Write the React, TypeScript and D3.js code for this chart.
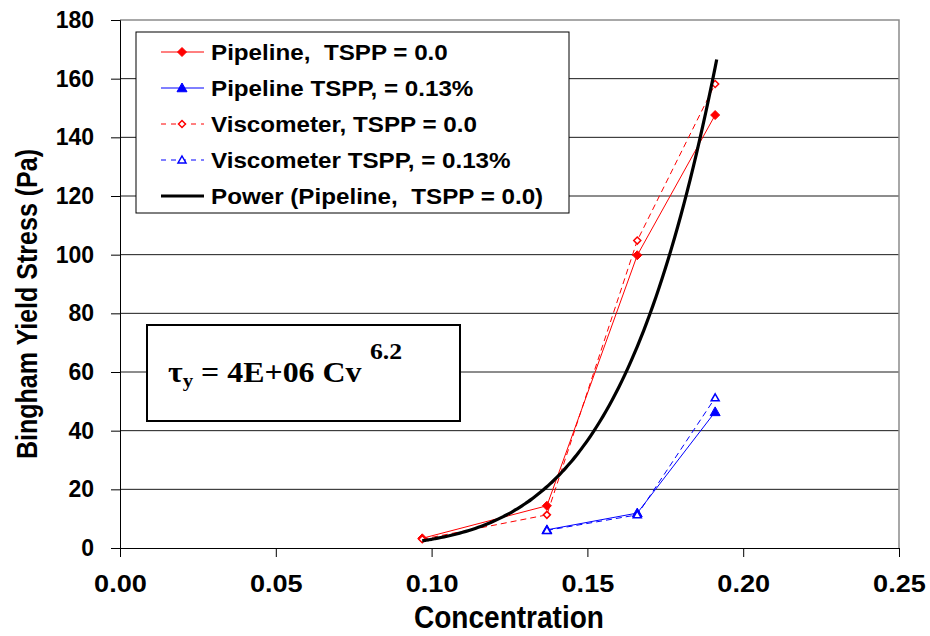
import React, { useEffect, useRef } from 'react';
import * as d3 from 'd3';

// --- Data ---
const concNoTspp = [0.097, 0.137, 0.166, 0.191];
const pipelineNoTspp = [3.3, 14.4, 99.8, 147.6];
const viscNoTspp = [3.0, 11.3, 104.8, 158.2];

const concTspp = [0.137, 0.166, 0.191];
const pipelineTspp = [6.2, 11.9, 46.4];
const viscTspp = [6.0, 11.3, 51.2];

// power trendline fitted to "Pipeline, TSPP = 0.0"
const powerCoef = 4.7e6;
const powerExp = 6.2;
const powerDomain = [0.097, 0.1915];

const xTicks = [0, 0.05, 0.1, 0.15, 0.2, 0.25];
const yTicks = [0, 20, 40, 60, 80, 100, 120, 140, 160, 180];

const legendLabels = [
  'Pipeline,  TSPP = 0.0',
  'Pipeline TSPP, = 0.13%',
  'Viscometer, TSPP = 0.0',
  'Viscometer TSPP, = 0.13%',
  'Power (Pipeline,  TSPP = 0.0)',
];

// --- Helpers ---
const diamondPath = (r) => `M0,${-r}L${r},0L0,${r}L${-r},0Z`;
const trianglePath = (r) => `M0,${-r}L${r},${r * 0.75}L${-r},${r * 0.75}Z`;

const SANS = '"Liberation Sans", Arial, sans-serif';
const SERIF = '"Liberation Serif", "Times New Roman", serif';

const App = () => {
  const ref = useRef<SVGSVGElement>(null);

  useEffect(() => {
    const svg = d3.select(ref.current);
    svg.selectAll('*').remove();

    const x = d3.scaleLinear().domain([0, 0.25]).range([120, 899]);
    const y = d3.scaleLinear().domain([0, 180]).range([548, 20]);

    svg.append('rect').attr('width', 930).attr('height', 636).attr('fill', '#fff');

    // gridlines
    svg.append('g').selectAll('line').data(yTicks.filter(d => d > 0 && d < 180)).enter().append('line')
      .attr('x1', x(0)).attr('x2', x(0.25)).attr('y1', d => y(d)).attr('y2', d => y(d))
      .attr('stroke', '#1a1a1a').attr('stroke-width', 1);

    // plot border top/right (grey)
    svg.append('path')
      .attr('d', `M${x(0)},${y(180)}H${x(0.25)}V${y(0)}`)
      .attr('fill', 'none').attr('stroke', '#8c8c8c').attr('stroke-width', 1.5);

    // y axis
    const yAxis = d3.axisLeft(y).tickValues(yTicks).tickSize(9).tickPadding(17).tickFormat(d3.format('d'));
    const gy = svg.append('g').attr('transform', `translate(${x(0)},0)`).call(yAxis);
    gy.select('.domain').attr('stroke', '#000');
    gy.selectAll('.tick line').attr('stroke', '#000');
    gy.selectAll('text').attr('fill', '#000').style('font-family', SANS).style('font-weight', 'bold')
      .style('font-size', '23px');

    // x axis
    const xAxis = d3.axisBottom(x).tickValues(xTicks).tickSize(9).tickFormat(d3.format('.2f'));
    const gx = svg.append('g').attr('transform', `translate(0,${y(0)})`).call(xAxis);
    gx.select('.domain').attr('stroke', '#000');
    gx.selectAll('.tick line').attr('stroke', '#000');
    gx.selectAll('.tick text').remove();
    gx.selectAll('.tick').append('text')
      .attr('transform', 'translate(0,44) scale(1.13,1)')
      .attr('text-anchor', 'middle').attr('fill', '#000')
      .style('font-family', SANS).style('font-weight', 'bold').style('font-size', '24px')
      .text(d => d3.format('.2f')(d));

    // axis titles
    svg.append('text')
      .attr('x', 509).attr('y', 628).attr('text-anchor', 'middle')
      .attr('textLength', 190).attr('lengthAdjust', 'spacingAndGlyphs')
      .style('font-family', SANS).style('font-weight', 'bold').style('font-size', '31px')
      .text('Concentration');
    svg.append('text')
      .attr('transform', 'translate(37,304) rotate(-90)')
      .attr('text-anchor', 'middle')
      .attr('textLength', 310).attr('lengthAdjust', 'spacingAndGlyphs')
      .style('font-family', SANS).style('font-weight', 'bold').style('font-size', '29px')
      .text('Bingham Yield Stress (Pa)');

    // series
    const line = d3.line().x(d => x(d[0])).y(d => y(d[1]));
    const series = [
      { xs: concNoTspp, ys: pipelineNoTspp, color: '#ff0000', dash: null, shape: diamondPath, filled: true, r: 4.5 },
      { xs: concTspp, ys: pipelineTspp, color: '#0000ff', dash: null, shape: trianglePath, filled: true, r: 5 },
      { xs: concNoTspp, ys: viscNoTspp, color: '#ff0000', dash: '6,4', shape: diamondPath, filled: false, r: 3.5 },
      { xs: concTspp, ys: viscTspp, color: '#0000ff', dash: '6,4', shape: trianglePath, filled: false, r: 4 },
    ];

    series.forEach(s => {
      const pts = s.xs.map((v, i) => [v, s.ys[i]]);
      svg.append('path').attr('d', line(pts)).attr('fill', 'none')
        .attr('stroke', s.color).attr('stroke-width', 1)
        .attr('stroke-dasharray', s.dash);
      svg.append('g').selectAll('path').data(pts).enter().append('path')
        .attr('transform', d => `translate(${x(d[0])},${y(d[1])})`)
        .attr('d', s.shape(s.r))
        .attr('fill', s.filled ? s.color : '#fff')
        .attr('stroke', s.color).attr('stroke-width', s.filled ? 1 : 1.5);
    });

    // power trendline
    const trendX = d3.range(powerDomain[0], powerDomain[1], 0.001).concat([powerDomain[1]]);
    const trendPts = trendX.map(c => [c, powerCoef * Math.pow(c, powerExp)]);
    svg.append('path').attr('d', line.curve(d3.curveMonotoneX)(trendPts))
      .attr('fill', 'none').attr('stroke', '#000').attr('stroke-width', 3.2);

    // legend
    const legend = svg.append('g');
    legend.append('rect').attr('x', 136).attr('y', 32).attr('width', 433).attr('height', 181)
      .attr('fill', '#fff').attr('stroke', '#000').attr('stroke-width', 1);
    const legendStyles = [...series, { color: '#000', dash: null, shape: null }];
    legendLabels.forEach((label, i) => {
      const cy = 52 + i * 36;
      const st = legendStyles[i];
      const g = legend.append('g').attr('transform', `translate(0,${cy})`);
      g.append('line').attr('x1', 161).attr('x2', 204).attr('y1', 0).attr('y2', 0)
        .attr('stroke', st.color).attr('stroke-width', st.shape ? 1 : 3)
        .attr('stroke-dasharray', st.dash ? '5,5' : null);
      if (st.shape) {
        g.append('path').attr('transform', 'translate(182,0)').attr('d', st.shape(st.r))
          .attr('fill', st.filled ? st.color : '#fff')
          .attr('stroke', st.color).attr('stroke-width', st.filled ? 1 : 1.5);
      }
      g.append('text').attr('transform', 'translate(211,8) scale(1.1,1)')
        .attr('xml:space', 'preserve').style('white-space', 'pre')
        .style('font-family', SANS).style('font-weight', 'bold').style('font-size', '22px')
        .text(label);
    });

    // equation box
    svg.append('rect').attr('x', 147).attr('y', 325).attr('width', 313).attr('height', 96)
      .attr('fill', '#fff').attr('stroke', '#000').attr('stroke-width', 2);
    const eq = svg.append('text').attr('transform', 'translate(168,382) scale(1.1,1)')
      .style('white-space', 'pre')
      .style('font-family', SERIF).style('font-weight', 'bold').style('font-size', '29px');
    eq.append('tspan').text('τ');
    eq.append('tspan').attr('dy', 5).style('font-size', '19px').text('y');
    eq.append('tspan').attr('dy', -5).text(' = 4E+06 Cv');
    svg.append('text').attr('transform', 'translate(370,359) scale(1.12,1)')
      .style('font-family', SERIF).style('font-weight', 'bold').style('font-size', '23px')
      .text('6.2');
  }, []);

  return (
    <svg ref={ref} width={930} height={636} style={{ position: 'absolute', left: 0, top: 0 }} />
  );
};

export default App;
